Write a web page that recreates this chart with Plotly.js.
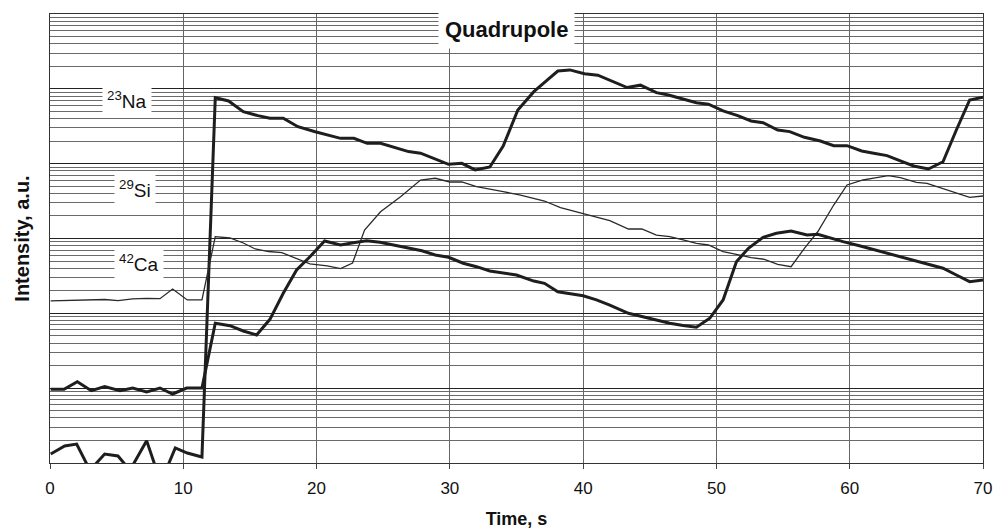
<!DOCTYPE html>
<html>
<head>
<meta charset="utf-8">
<script src="https://cdn.plot.ly/plotly-3.0.1.min.js"></script>
<style>html,body{margin:0;padding:0;background:#fff;}#chart{width:995px;height:531px;}</style>
</head>
<body>
<div id="chart"></div>
<script>
// Time axis (s)
const naTime = [0.05,1.1,2.0,3.0,4.1,5.1,6.0,7.25,8.0,8.7,9.4,10.3,11.4,12.4,13.4,14.5,15.6,16.5,17.5,18.6,19.9,20.8,21.8,22.8,23.8,24.8,25.8,26.9,27.8,28.9,29.9,30.9,31.9,33.0,34.0,35.1,36.3,37.3,38.1,39.0,40.1,41.1,42.2,43.3,44.3,45.5,46.4,47.5,48.5,49.4,50.5,51.6,52.6,53.5,54.6,55.5,56.6,57.8,58.8,59.8,60.9,61.8,62.8,63.8,64.8,65.9,67.0,68.0,69.0,70.0];
const naValue = [1.32,1.69,1.79,0.8,1.32,1.24,0.8,1.99,0.8,0.8,1.59,1.36,1.2,76200,68800,49500,43800,40400,40400,31200,26700,24200,21800,21800,18700,18700,16400,14500,13800,11500,9810,10100,8240,9030,17200,52200,91600,131000,173000,179000,159000,152000,127000,104000,112000,88900,82800,72500,65300,62200,50600,43800,37200,35300,28200,26800,22500,20100,17400,17400,14800,13800,12800,10900,9310,8490,10600,28200,71000,77100];

const siTime = [0.05,1.05,2.0,3.1,4.1,5.1,6.2,7.25,8.25,9.2,10.3,11.4,12.4,13.5,14.5,15.4,16.4,17.4,18.4,19.5,20.8,21.8,22.7,23.6,24.8,26.3,27.8,28.9,30.0,30.9,32.0,33.0,34.0,35.3,36.2,37.1,38.3,40.0,41.0,42.0,43.4,44.4,45.5,46.5,47.5,48.5,49.4,50.5,51.5,52.6,53.6,54.6,55.6,56.6,57.6,58.8,59.8,61.0,61.9,62.9,63.8,65.0,65.8,66.8,67.8,69.0,70.0];
const siValue = [147,148,148,151,153,148,156,158,157,211,151,151,1057,1016,871,724,670,646,549,457,430,396,471,1300,2280,3620,6050,6380,5690,5690,4920,4590,4220,3810,3480,3170,2580,2170,1940,1730,1340,1340,1110,1060,956,863,819,666,615,554,527,452,420,740,1230,2800,5190,6050,6440,6910,6500,5640,5470,4810,4220,3550,3700];

const caTime = [0.05,1.05,2.05,3.1,4.1,5.25,6.2,7.25,8.25,9.2,10.25,11.4,12.4,13.5,14.5,15.5,16.5,17.5,18.5,19.5,20.6,21.8,22.75,23.75,24.75,25.75,27.0,27.9,28.9,29.9,31.0,32.0,33.0,34.0,35.0,36.3,37.1,38.1,39.3,40.0,41.0,42.0,43.4,44.5,45.5,46.5,47.5,48.5,49.5,50.5,51.5,52.4,53.5,54.5,55.6,56.8,57.6,58.5,59.5,60.8,61.9,63.0,64.1,65.8,67.0,68.0,69.0,70.0];
const caValue = [9.66,9.66,12.2,9.25,10.5,9.25,10.05,8.89,10.05,8.36,10.05,10.05,73.6,68.4,58.1,51.4,83.2,185,379,571,926,819,879,935,890,819,740,687,602,561,467,420,368,349,325,270,252,194,179,172,151,129,100,90.2,81.5,73.6,68.8,65.1,85.9,151,490,740,1038,1174,1260,1114,1138,1016,907,794,703,621,541,452,400,325,265,279];

const seriesNames = ['<sup>23</sup>Na','<sup>29</sup>Si','<sup>42</sup>Ca'];
const xTickValues = [0,10,20,30,40,50,60,70];
const chartTitle = 'Quadrupole';

const ink = '#1e1e1e';
const traces = [
  {x: naTime, y: naValue, mode: 'lines', line: {color: ink, width: 3}, name: seriesNames[0]},
  {x: siTime, y: siValue, mode: 'lines', line: {color: '#2a2a2a', width: 1.3}, name: seriesNames[1]},
  {x: caTime, y: caValue, mode: 'lines', line: {color: ink, width: 3}, name: seriesNames[2]}
];

const labelFont = {family: 'Liberation Sans, Arial, sans-serif', size: 19, color: '#111'};
function label(x, y, text) {
  return {xref: 'x', yref: 'paper', x: x, y: y, xanchor: 'center', yanchor: 'middle', text: text,
          showarrow: false, font: labelFont, bgcolor: '#fff', borderpad: 4};
}
const layout = {
  width: 995, height: 531,
  margin: {l: 50, r: 12, t: 14, b: 68},
  paper_bgcolor: '#fff', plot_bgcolor: '#fff',
  showlegend: false,
  xaxis: {
    range: [0, 70], tickvals: xTickValues, ticktext: xTickValues.map(String),
    ticks: 'outside', ticklen: 5, tickcolor: '#444', ticklabelstandoff: 5,
    showgrid: true, gridcolor: '#666', gridwidth: 1,
    showline: true, linecolor: '#333', linewidth: 1, mirror: true, zeroline: false,
    tickfont: {family: 'Liberation Sans Narrow, Liberation Sans, Arial, sans-serif', size: 17, color: '#111'},
    title: {text: '<b>Time, s</b>', font: {family: 'Liberation Sans, Arial, sans-serif', size: 18, color: '#111'}, standoff: 14}
  },
  yaxis: {
    type: 'log', range: [0, 6], dtick: 1,
    showticklabels: false, ticks: '',
    showgrid: true, gridcolor: '#222', gridwidth: 1,
    minor: {dtick: 'D1', showgrid: true, gridcolor: '#6a6a6a', gridwidth: 1, ticks: ''},
    showline: true, linecolor: '#333', linewidth: 1, mirror: true, zeroline: false,
    title: {text: '<b>Intensity, a.u.</b>', font: {family: 'Liberation Sans, Arial, sans-serif', size: 20, color: '#111'}, standoff: 14}
  },
  annotations: [
    {xref: 'paper', yref: 'paper', x: 0.489, y: 0.966, xanchor: 'center', yanchor: 'middle',
     text: '<b>' + chartTitle + '</b>', showarrow: false,
     font: {family: 'Liberation Sans, Arial, sans-serif', size: 22, color: '#111'}, bgcolor: '#fff', borderpad: 6},
    label(5.78, 0.808, seriesNames[0]),
    label(6.38, 0.610, seriesNames[1]),
    label(6.68, 0.445, seriesNames[2])
  ]
};

Plotly.newPlot('chart', traces, layout, {displayModeBar: false, staticPlot: true});
</script>
</body>
</html>
